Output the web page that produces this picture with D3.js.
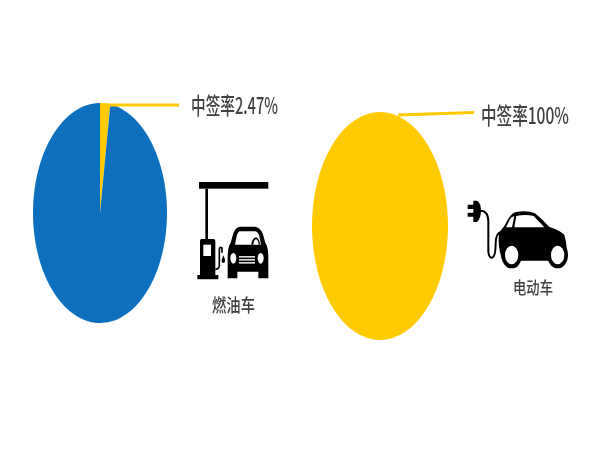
<!DOCTYPE html>
<html>
<head>
<meta charset="utf-8">
<script src="https://cdn.jsdelivr.net/npm/d3@7"></script>
<style>
  html, body { margin: 0; padding: 0; background: #fff; }
  svg { display: block; }
  text { font-family: "Noto Sans CJK SC", sans-serif; font-weight: 500; fill: #3f3f3f; }
</style>
</head>
<body>
<div id="chart"></div>
<script>
const fuelValues = [2.47, 97.53];
const fuelColors = ['#ffcb00', '#0b6fbf'];
const electricValues = [100];
const electricColors = ['#ffcb00'];
const fuelRate = '中签率2.47%';
const electricRate = '中签率100%';
const fuelName = '燃油车';
const electricName = '电动车';

const width = 600;
const height = 450;

const svg = d3.select('#chart')
  .append('svg')
  .attr('width', width)
  .attr('height', height);

// the source picture is a bit soft, keep that
const defs = svg.append('defs');
defs.append('filter').attr('id', 'soft')
  .append('feGaussianBlur').attr('stdDeviation', 0.55);

const root = svg.append('g').attr('filter', 'url(#soft)');

const pie = d3.pie().sort(null);
const arc = d3.arc().innerRadius(0).outerRadius(100);

// pies are stretched to ellipses like in the reference
function drawPie(values, colors, cx, cy, rx, ry) {
  const g = root.append('g')
    .attr('transform', `translate(${cx},${cy}) scale(${rx / 100},${ry / 100})`);
  g.selectAll('path')
    .data(pie(values))
    .join('path')
    .attr('d', arc)
    .attr('fill', (d, i) => colors[i]);
}

drawPie(fuelValues, fuelColors, 100, 213, 67, 110);
drawPie(electricValues, electricColors, 380, 226, 68, 114);

// leader lines
root.append('line')
  .attr('x1', 100).attr('y1', 105).attr('x2', 179).attr('y2', 105)
  .attr('stroke', '#ffcb00').attr('stroke-width', 3);
root.append('line')
  .attr('x1', 398).attr('y1', 115).attr('x2', 474).attr('y2', 112.5)
  .attr('stroke', '#ffcb00').attr('stroke-width', 3);

// text is squeezed wide-wise in the source
function label(str, x, y, w, sy, size) {
  root.append('text')
    .attr('transform', `translate(${x},${y}) scale(1,${sy})`)
    .attr('font-size', size)
    .attr('textLength', w)
    .attr('lengthAdjust', 'spacingAndGlyphs')
    .text(str);
}

label(fuelRate, 191, 114, 87, 1.4, 16);
label(electricRate, 481, 124, 88, 1.4, 16);
label(fuelName, 212, 312, 43, 1.25, 14.5);
label(electricName, 513, 294, 40, 1.25, 13.5);

// gas station icon, drawn in zoomed up units (1/3 px)
const station = root.append('g')
  .attr('transform', 'translate(180,170) scale(0.3333)');
station.append('rect').attr('x', 57).attr('y', 36).attr('width', 208).attr('height', 20).attr('fill', '#000');
station.append('rect').attr('x', 76).attr('y', 56).attr('width', 8).attr('height', 155).attr('fill', '#000');
station.append('path').attr('fill', '#000')
  .attr('d', 'M65 207H100Q106 207 106 213V315H115V328H52V315H60V213Q60 207 65 207Z');
station.append('rect').attr('x', 70).attr('y', 224).attr('width', 23).attr('height', 34).attr('fill', '#fff');
station.append('path').attr('fill', 'none').attr('stroke', '#000').attr('stroke-width', 5)
  .attr('d', 'M106 298Q120 298 118 280V240Q118 228 126 234V248');
station.append('path').attr('fill', '#000')
  .attr('d', 'M130 256Q136 268 135 274A5 5 0 0 1 125 274Q125 268 130 256Z');
station.append('path').attr('fill', '#000')
  .attr('d', 'M180 170H225Q240 172 248 190L256 218Q266 232 265 270V325H235V305H172V325H143V270Q142 232 152 218L160 190Q166 172 180 170Z');
station.append('path').attr('fill', '#fff')
  .attr('d', 'M180 184H226Q234 186 238 198L243 224H165L170 198Q173 186 180 184Z');
station.append('path').attr('fill', '#000')
  .attr('d', 'M214 224Q216 204 228 202Q238 204 240 224Z');
station.append('path').attr('fill', '#fff')
  .attr('d', 'M220 224Q221 210 228 208Q235 210 236 224Z');
station.append('ellipse').attr('cx', 160).attr('cy', 265).attr('rx', 9).attr('ry', 16).attr('fill', '#fff');
station.append('ellipse').attr('cx', 242).attr('cy', 265).attr('rx', 9).attr('ry', 16).attr('fill', '#fff');
[258, 267, 276].forEach((y) => {
  station.append('rect').attr('x', 177).attr('y', y).attr('width', 48).attr('height', 5).attr('fill', '#ddd');
});

// electric car icon
const ev = root.append('g')
  .attr('transform', 'translate(455,190) scale(0.3333)');
ev.append('path').attr('fill', '#000')
  .attr('d', 'M38 44H55V32H66Q78 40 78 62Q78 84 66 96H55V80H38V68H55V57H38Z');
ev.append('path').attr('fill', 'none').attr('stroke', '#000').attr('stroke-width', 6)
  .attr('d', 'M76 62Q100 62 100 95V185Q102 205 112 203Q122 200 122 160Q122 128 140 125');
ev.append('path').attr('fill', '#000')
  .attr('d', 'M132 128L150 105Q165 72 180 67Q215 60 240 70Q262 88 282 110Q318 122 328 135Q338 165 334 205L326 228H290L280 212H196L186 232H156L140 205Q128 170 132 128Z');
ev.append('path').attr('fill', '#fff').attr('d', 'M153 112L165 88Q170 80 178 78L171 112Z');
ev.append('path').attr('fill', '#fff').attr('d', 'M184 78Q212 72 236 78L268 112H178Z');
[170, 308].forEach((cx) => {
  ev.append('ellipse').attr('cx', cx).attr('cy', 195).attr('rx', 31).attr('ry', 40).attr('fill', '#000');
  ev.append('ellipse').attr('cx', cx).attr('cy', 195).attr('rx', 20).attr('ry', 28).attr('fill', '#fff');
});
</script>
</body>
</html>
